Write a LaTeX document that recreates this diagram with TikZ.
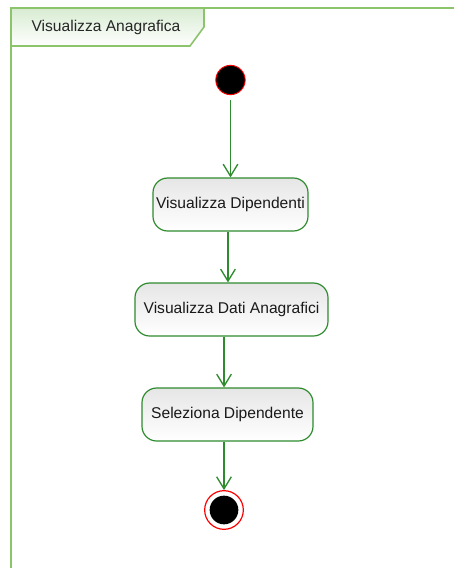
\documentclass[tikz,border=0pt]{standalone}
\usepackage{fontspec}
\setmainfont{Liberation Sans}
\usetikzlibrary{arrows.meta}
\definecolor{flowgreen}{HTML}{2E8B2E}
\definecolor{framegreen}{HTML}{8CC46C}
\definecolor{tabtop}{HTML}{D8ECD2}
\definecolor{boxtop}{HTML}{E6E6E6}
\begin{document}
\begin{tikzpicture}[x=0.75pt,y=-0.75pt,
  every node/.style={font=\fontsize{11.7pt}{14pt}\selectfont},
  action/.style={draw=flowgreen, line width=0.9pt, rounded corners=11pt,
    top color=boxtop, bottom color=white, minimum height=39.75pt,
    inner sep=0pt, text=black!90},
  flow/.style={draw=flowgreen, line width=1pt,
    -{Straight Barb[length=9pt,width=11pt,line width=1pt]}},
  initial/.style={circle, fill=black, draw=red, line width=0.7pt,
    minimum size=22pt, inner sep=0pt},
  finalring/.style={circle, fill=white, draw=red, line width=0.9pt,
    minimum size=29pt, inner sep=0pt},
  finaldot/.style={circle, fill=black, minimum size=21.5pt, inner sep=0pt}
]
\useasboundingbox (0,0) rectangle (454,568);

% activity frame with its name tab
\path[top color=tabtop, bottom color=white]
  (11,8) -- (204,8) -- (204,27) -- (190,46) -- (11,46) -- cycle;
\draw[framegreen, line width=1.2pt] (204,8) -- (204,27) -- (190,46) -- (11,46);
\draw[framegreen, line width=1.5pt] (11,568) -- (11,8) -- (454,8);
\node[text=black!85] (title) at (106,27) {Visualizza Anagrafica};

% nodes of the flow
\node[initial] (start) at (230.5,80) {};
\node[action, minimum width=116.25pt] (dip) at (230.5,204.5) {Visualizza Dipendenti};
\node[action, minimum width=144.75pt] (dati) at (231.5,309.5) {Visualizza Dati Anagrafici};
\node[action, minimum width=128.25pt] (sel) at (227.5,414.5) {Seleziona Dipendente};
\node[finalring] (stop) at (224,510) {};
\node[finaldot] (stopdot) at (stop) {};

% control flow
\draw[flow] ([yshift=-4pt]start.south) -- (start |- dip.north);
\coordinate (a2) at ([xshift=-1.9pt]dip.south);
\draw[flow] (a2) -- (a2 |- dati.north);
\coordinate (a3) at ([xshift=-5.6pt]dati.south);
\draw[flow] (a3) -- (a3 |- sel.north);
\draw[flow] (stop |- sel.south) -- (stop.north);
\end{tikzpicture}
\end{document}
